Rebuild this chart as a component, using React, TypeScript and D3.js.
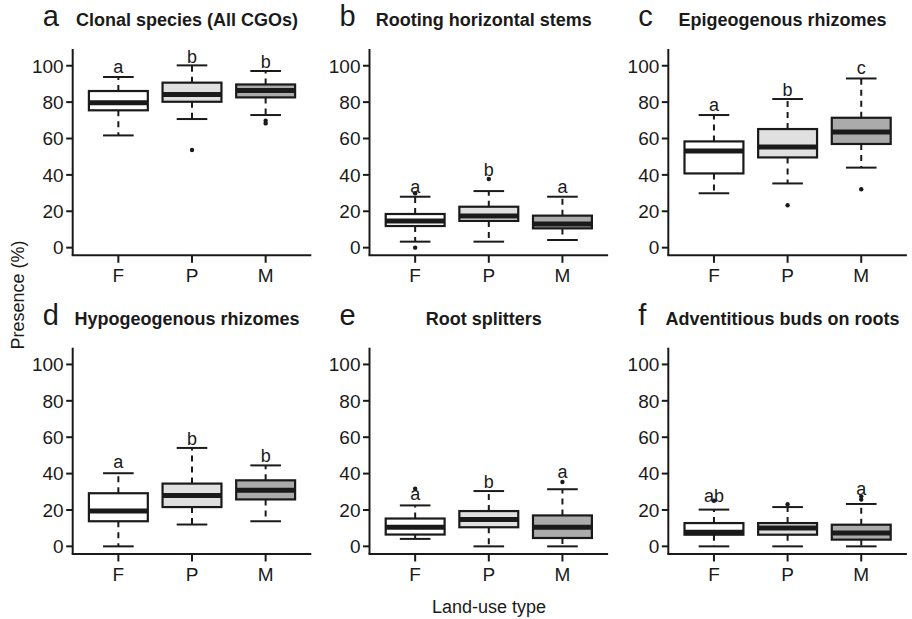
import React, { useEffect } from "react";
import * as d3 from "d3";

const categories = ["F", "P", "M"];
const panelLetters = ["a", "b", "c", "d", "e", "f"];
const panelTitles = [
  "Clonal species (All CGOs)",
  "Rooting horizontal stems",
  "Epigeogenous rhizomes",
  "Hypogeogenous rhizomes",
  "Root splitters",
  "Adventitious buds on roots",
];
const yTicks = [0, 20, 40, 60, 80, 100];

// box statistics per panel, per category (F, P, M)
const whiskerLow = [
  [61.7, 70.7, 72.9],
  [3.3, 3.3, 4.2],
  [29.9, 35.3, 44.0],
  [0, 12.0, 13.8],
  [4.1, 0, 0],
  [0, 0, 0],
];
const quartile1 = [
  [75.5, 80.2, 82.6],
  [11.9, 14.7, 10.6],
  [40.8, 49.6, 57.0],
  [13.8, 21.6, 25.8],
  [6.5, 10.5, 4.6],
  [6.4, 6.4, 3.7],
];
const medians = [
  [79.7, 84.2, 86.4],
  [14.6, 17.4, 13.0],
  [53.1, 55.3, 63.6],
  [19.4, 27.9, 30.8],
  [10.5, 14.8, 10.5],
  [7.8, 10.1, 7.3],
];
const quartile3 = [
  [86.1, 90.7, 89.7],
  [18.5, 22.5, 17.6],
  [58.4, 65.2, 71.4],
  [29.2, 34.5, 36.3],
  [15.3, 19.4, 17.0],
  [12.8, 12.8, 11.9],
];
const whiskerHigh = [
  [93.8, 100.2, 97.1],
  [28.0, 31.1, 28.0],
  [72.9, 81.7, 93.0],
  [40.2, 54.1, 44.5],
  [22.5, 30.4, 31.4],
  [20.2, 21.6, 23.3],
];
const outliers = [
  [[], [53.7], [69.8, 68.3]],
  [[0, 29.9], [37.7], []],
  [[], [23.3], [32.1]],
  [[], [], []],
  [[31.7], [], [35.4]],
  [[25.1], [23.2], [27.5, 25.7]],
];
const sigLetters = [
  ["a", "b", "b"],
  ["a", "b", "a"],
  ["a", "b", "c"],
  ["a", "b", "b"],
  ["a", "b", "a"],
  ["ab", "", "a"],
];
const sigLetterY = [
  [95.8, 101.6, 98.9],
  [30.2, 39.6, 30.2],
  [75.1, 83.5, 95.4],
  [42.8, 55.7, 46.1],
  [25.3, 32.3, 37.8],
  [24.4, 0, 28.2],
];

const fills = ["#ffffff", "#e0e0e0", "#ababab"];
const ink = "#1a1a1a";
const FONT = "'Liberation Sans', Arial, Helvetica, sans-serif";

const colLeft = [72.7, 369.5, 668.3];
const rowTop = [49, 347.7];
const plotW = 238.6;
const plotH = 206.3;

function Panel({ idx }: { idx: number }) {
  const col = idx % 3;
  const row = Math.floor(idx / 3);
  const left = colLeft[col];
  const top = rowTop[row];
  const x = d3.scaleLinear().domain([0.38, 3.62]).range([left, left + plotW]);
  const y = d3.scaleLinear().domain([-4.2, 109.2]).range([top + plotH, top]);
  const bw = x(0.8) - x(0);
  const cw = bw * 0.52;
  const bottom = top + plotH;
  const cx = left + plotW / 2;

  return (
    <g>
      {/* panel letter and title */}
      <text x={left - 30} y={top - 23} fontSize={29} fontFamily={FONT} fill={ink}>
        {panelLetters[idx]}
      </text>
      <text x={cx - 5} y={top - 23} fontSize={18} fontWeight="bold" fontFamily={FONT} fill={ink} textAnchor="middle">
        {panelTitles[idx]}
      </text>
      {/* axes */}
      <line x1={left} x2={left} y1={top} y2={bottom} stroke={ink} strokeWidth={2} />
      <line x1={left - 1} x2={left + plotW} y1={bottom} y2={bottom} stroke={ink} strokeWidth={2} />
      {yTicks.map((t) => (
        <g key={t}>
          <line x1={left - 6.5} x2={left} y1={y(t)} y2={y(t)} stroke={ink} strokeWidth={2} />
          <text x={left - 9} y={y(t)} dy="0.36em" fontSize={19} fontFamily={FONT} fill={ink} textAnchor="end">
            {t}
          </text>
        </g>
      ))}
      {categories.map((c, i) => (
        <g key={c}>
          <line x1={x(i + 1)} x2={x(i + 1)} y1={bottom} y2={bottom + 7.5} stroke={ink} strokeWidth={2} />
          <text x={x(i + 1)} y={bottom + 26.5} fontSize={19} fontFamily={FONT} fill={ink} textAnchor="middle">
            {c}
          </text>
        </g>
      ))}
      {/* boxes */}
      {categories.map((c, i) => {
        const px = x(i + 1);
        return (
          <g key={"b" + c}>
            <line x1={px} x2={px} y1={y(quartile3[idx][i])} y2={y(whiskerHigh[idx][i])} stroke={ink} strokeWidth={2} strokeDasharray="6,5" />
            <line x1={px} x2={px} y1={y(quartile1[idx][i])} y2={y(whiskerLow[idx][i])} stroke={ink} strokeWidth={2} strokeDasharray="6,5" />
            <line x1={px - cw / 2} x2={px + cw / 2} y1={y(whiskerHigh[idx][i])} y2={y(whiskerHigh[idx][i])} stroke={ink} strokeWidth={2} />
            <line x1={px - cw / 2} x2={px + cw / 2} y1={y(whiskerLow[idx][i])} y2={y(whiskerLow[idx][i])} stroke={ink} strokeWidth={2} />
            <rect
              x={px - bw / 2}
              width={bw}
              y={y(quartile3[idx][i])}
              height={y(quartile1[idx][i]) - y(quartile3[idx][i])}
              fill={fills[i]}
              stroke={ink}
              strokeWidth={2.2}
            />
            <line x1={px - bw / 2} x2={px + bw / 2} y1={y(medians[idx][i])} y2={y(medians[idx][i])} stroke={ink} strokeWidth={5} />
            {outliers[idx][i].map((o, k) => (
              <circle key={k} cx={px} cy={y(o)} r={2.2} fill={ink} />
            ))}
            {sigLetters[idx][i] && (
              <text x={px} y={y(sigLetterY[idx][i])} fontSize={18} fontFamily={FONT} fill={ink} textAnchor="middle">
                {sigLetters[idx][i]}
              </text>
            )}
          </g>
        );
      })}
    </g>
  );
}

export default function App() {
  useEffect(() => {
    document.body.style.margin = "0";
  }, []);
  return (
    <svg width={912} height={619} style={{ display: "block", background: "#fff" }}>
      <rect width={912} height={619} fill="#fff" />
      {panelTitles.map((_, i) => (
        <Panel key={i} idx={i} />
      ))}
      <text x={489} y={613} fontSize={18} fontFamily={FONT} fill={ink} textAnchor="middle">
        Land-use type
      </text>
      <text transform="translate(24,295) rotate(-90)" fontSize={18} fontFamily={FONT} fill={ink} textAnchor="middle">
        Presence (%)
      </text>
    </svg>
  );
}
